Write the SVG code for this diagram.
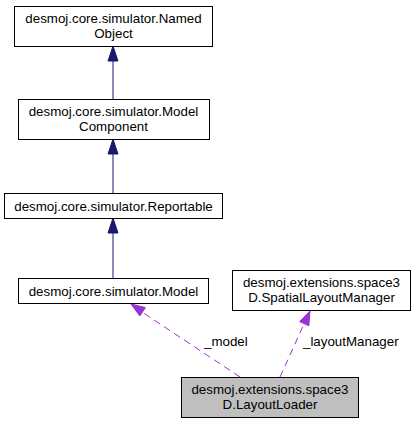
<svg xmlns="http://www.w3.org/2000/svg" width="415" height="424" viewBox="0 0 415 424">
<style>
  .box { fill: #ffffff; stroke: #000000; stroke-width: 1; }
  .cur { fill: #bfbfbf; stroke: #000000; stroke-width: 1; }
  text { font-family: "Liberation Sans", Arial, sans-serif; font-size: 13.33px; fill: #000000; }
  .c { text-anchor: middle; }
  .inh { stroke: #191970; stroke-width: 1; fill: none; }
  .inhh { fill: #191970; stroke: #191970; stroke-width: 1; }
  .use { stroke: #9a32cd; stroke-width: 1; fill: none; stroke-dasharray: 7,5; }
  .useh { fill: #9a32cd; stroke: #9a32cd; stroke-width: 1; }
</style>
<rect width="415" height="424" fill="#ffffff"/>
<g id="connectors">
  <line class="inh" x1="113" y1="99" x2="113" y2="60"/>
  <polygon class="inhh" points="113,46 108,61 118,61"/>
  <line class="inh" x1="113" y1="193" x2="113" y2="153"/>
  <polygon class="inhh" points="113,139 108,154 118,154"/>
  <line class="inh" x1="113" y1="278" x2="113" y2="232"/>
  <polygon class="inhh" points="113,218 108,233 118,233"/>
  <line class="use" x1="240" y1="377" x2="142" y2="312"/>
  <polygon class="useh" points="131,304 139.8,316 145.4,307.6"/>
  <text x="204" y="346">_model</text>
  <line class="use" x1="280" y1="377" x2="304" y2="324"/>
  <polygon class="useh" points="310,311 299.7,321.6 308.8,325.8"/>
  <text x="303" y="346">_layoutManager</text>
</g>
<g id="node_namedobject">
  <rect class="box" x="14.5" y="6.5" width="198" height="40"/>
  <text class="c" x="113.5" y="22.5">desmoj.core.simulator.Named</text>
  <text class="c" x="113.5" y="37.5">Object</text>
</g>
<g id="node_modelcomponent">
  <rect class="box" x="18.5" y="99.5" width="191" height="40"/>
  <text class="c" x="113.5" y="115.5">desmoj.core.simulator.Model</text>
  <text class="c" x="113.5" y="130.5">Component</text>
</g>
<g id="node_reportable">
  <rect class="box" x="4.5" y="193.5" width="218" height="25"/>
  <text class="c" x="113.5" y="210.5">desmoj.core.simulator.Reportable</text>
</g>
<g id="node_model">
  <rect class="box" x="18.5" y="278.5" width="190" height="25"/>
  <text class="c" x="113.5" y="295.5">desmoj.core.simulator.Model</text>
</g>
<g id="node_spatiallayoutmanager">
  <rect class="box" x="232.5" y="270.5" width="178" height="40"/>
  <text class="c" x="321.5" y="286.5">desmoj.extensions.space3</text>
  <text class="c" x="321.5" y="301.5">D.SpatialLayoutManager</text>
</g>
<g id="node_layoutloader">
  <rect class="cur" x="181.5" y="377.5" width="177" height="40"/>
  <text class="c" x="270" y="393.5">desmoj.extensions.space3</text>
  <text class="c" x="270" y="408.5">D.LayoutLoader</text>
</g>
</svg>
